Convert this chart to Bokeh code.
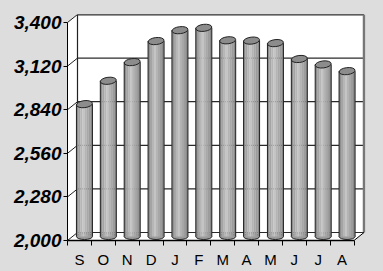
from bokeh.plotting import figure
from bokeh.models import Range1d, FixedTicker, NumeralTickFormatter, LinearAxis
from bokeh.embed import file_html
from bokeh.resources import INLINE

# ---- data ----
months = ["S", "O", "N", "D", "J", "F", "M", "A", "M", "J", "J", "A"]
values = [2850, 3000, 3120, 3255, 3325, 3340, 3260, 3258, 3242, 3140, 3105, 3062]
y_ticks = [2000, 2280, 2560, 2840, 3120, 3400]

# ---- style / geometry ----
BG = "#DDDDDD"
W, H = 367, 271
ML, MR, MT, MB = 67, 2, 14, 26
cat_px = (W - ML - MR - 11.5) / 12.0
DX = 10.0 / cat_px              # depth offset (x units)
PAD = 1.5 / cat_px
u_per_px = 1400.0 / 218.0
DY = 8.0 * u_per_px             # depth offset (y units)
YMIN, YMAX = y_ticks[0], y_ticks[-1]
n = len(months)
xl, xr = 0.5, n + 0.5

p = figure(width=W, height=H, output_backend="svg", toolbar_location=None,
           x_range=Range1d(xl, xr + DX + PAD),
           y_range=Range1d(YMIN - 5 * u_per_px, YMAX + DY),
           min_border_left=ML, min_border_right=MR, min_border_top=MT, min_border_bottom=MB,
           x_axis_type=None, y_axis_type=None,
           background_fill_color=BG, border_fill_color=BG, outline_line_color=None)

try:
    from bokeh.models import GlobalInlineStyleSheet
    p.stylesheets = [GlobalInlineStyleSheet(
        css="html, body { background-color: #DDDDDD; } body { margin-top: 0; margin-bottom: 0; }")]
except Exception:
    pass

# back wall, side wall, floor
p.quad(left=[xl + DX], right=[xr + DX], bottom=[YMIN + DY], top=[YMAX + DY],
       fill_color="white", line_color=None)
p.patch([xl, xl, xl + DX, xl + DX], [YMIN, YMAX, YMAX + DY, YMIN + DY],
        fill_color="white", line_color=None)
p.patch([xl, xr, xr + DX, xl + DX], [YMIN, YMIN, YMIN + DY, YMIN + DY],
        fill_color="white", line_color=None)

# gridlines on back wall + diagonals on side wall
p.segment(x0=[xl + DX] * len(y_ticks), y0=[v + DY for v in y_ticks],
          x1=[xr + DX] * len(y_ticks), y1=[v + DY for v in y_ticks],
          line_color="#2A2A2A", line_width=1.2)
p.segment(x0=[xl] * len(y_ticks), y0=y_ticks,
          x1=[xl + DX] * len(y_ticks), y1=[v + DY for v in y_ticks],
          line_color="#222222", line_width=1)
# wall edges
p.segment(x0=[xl + DX], y0=[YMIN + DY], x1=[xl + DX], y1=[YMAX + DY], line_color="#222222", line_width=1.2)
p.segment(x0=[xl + DX], y0=[YMAX + DY], x1=[xr + DX], y1=[YMAX + DY], line_color="#333333", line_width=2)
p.segment(x0=[xr + DX], y0=[YMIN + DY], x1=[xr + DX], y1=[YMAX + DY], line_color="#777777", line_width=2.5)
p.segment(x0=[xl], y0=[YMIN], x1=[xr], y1=[YMIN], line_color="black", line_width=1.5)
p.segment(x0=[xr], y0=[YMIN], x1=[xr + DX], y1=[YMIN + DY], line_color="black", line_width=1)

# cylinders
cx = [i + 1 + DX / 2 for i in range(n)]
base = YMIN + DY / 2
tops = [v + DY / 2 for v in values]
bw = 16.0 / cat_px

p.ellipse(x=cx, y=[base] * n, width=bw, height=6, height_units="screen",
          fill_color="#9A9A9A", line_color="#222222", line_width=1)
strip_cols = ["#8E8E8E", "#A4A4A4", "#B6B6B6", "#C4C4C4", "#B4B4B4",
              "#A8A8A8", "#9C9C9C", "#8A8A8A"]
ns = len(strip_cols)
sw = bw / ns
for k, col in enumerate(strip_cols):
    off = -bw / 2 + sw * (k + 0.5)
    p.vbar(x=[c + off for c in cx], width=sw * 1.08, bottom=base, top=tops,
           fill_color=col, line_color=None)
p.segment(x0=[c - bw / 2 for c in cx], y0=[base] * n, x1=[c - bw / 2 for c in cx], y1=tops,
          line_color="#222222", line_width=1)
p.segment(x0=[c + bw / 2 for c in cx], y0=[base] * n, x1=[c + bw / 2 for c in cx], y1=tops,
          line_color="#222222", line_width=1)
p.ellipse(x=cx, y=tops, width=bw, height=7, height_units="screen", angle=0.12,
          fill_color="#8C8C8C", line_color="#222222", line_width=1)

# axes
ya = LinearAxis(bounds=(YMIN, YMAX), ticker=FixedTicker(ticks=y_ticks, minor_ticks=[]),
                formatter=NumeralTickFormatter(format="0,0"))
ya.major_tick_out = 4
ya.major_tick_in = 0
ya.minor_tick_out = 0
ya.minor_tick_in = 0
ya.axis_line_color = "black"
ya.axis_line_width = 1
ya.major_label_text_font = "Liberation Sans"
ya.major_label_text_font_style = "bold italic"
ya.major_label_text_font_size = "19px"
ya.major_label_text_color = "black"
ya.major_label_standoff = 2
p.add_layout(ya, "left")

xa = LinearAxis(ticker=FixedTicker(ticks=[i + 1 for i in range(n)],
                                   minor_ticks=[i + 0.5 for i in range(n + 1)]),
                major_label_overrides={i + 1: m for i, m in enumerate(months)})
xa.axis_line_color = None
xa.major_tick_in = 0
xa.major_tick_out = 0
xa.minor_tick_in = 5
xa.minor_tick_out = 0
xa.minor_tick_line_color = "black"
xa.major_label_text_font = "Liberation Sans"
xa.major_label_text_font_size = "15px"
xa.major_label_text_color = "black"
xa.major_label_standoff = 5
p.add_layout(xa, "below")

open("out.html", "w").write(file_html(p, INLINE))
